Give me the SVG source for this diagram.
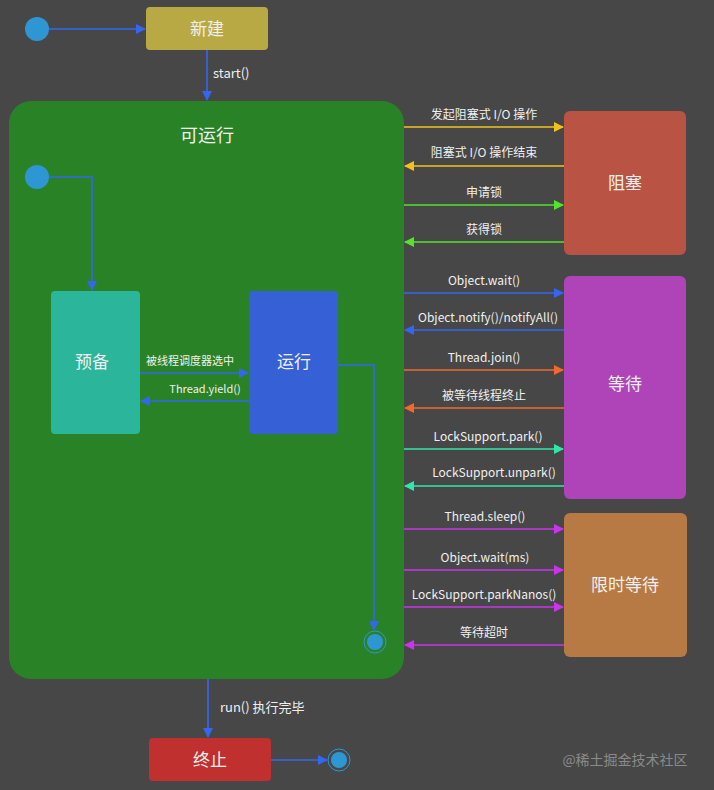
<svg xmlns="http://www.w3.org/2000/svg" width="714" height="790" viewBox="0 0 714 790">
<defs>
<style>
text{font-family:"Noto Sans CJK SC","Liberation Sans",sans-serif;fill:#f0f0f0;text-anchor:middle}
.s{font-size:12px}.b{font-size:17px}
.c{stroke-width:1.6;fill:none}
</style>
<marker id="ab" markerWidth="10" markerHeight="10" refX="9" refY="5" orient="auto" markerUnits="userSpaceOnUse"><path d="M0,0L10,5L0,10z" fill="#3466f0"/></marker>
<marker id="ay" markerWidth="10" markerHeight="10" refX="9" refY="5" orient="auto-start-reverse" markerUnits="userSpaceOnUse"><path d="M0,0L10,5L0,10z" fill="#f2c21b"/></marker>
<marker id="ag" markerWidth="10" markerHeight="10" refX="9" refY="5" orient="auto-start-reverse" markerUnits="userSpaceOnUse"><path d="M0,0L10,5L0,10z" fill="#52e52a"/></marker>
<marker id="abl" markerWidth="10" markerHeight="10" refX="9" refY="5" orient="auto-start-reverse" markerUnits="userSpaceOnUse"><path d="M0,0L10,5L0,10z" fill="#3466f0"/></marker>
<marker id="ao" markerWidth="10" markerHeight="10" refX="9" refY="5" orient="auto-start-reverse" markerUnits="userSpaceOnUse"><path d="M0,0L10,5L0,10z" fill="#f06a30"/></marker>
<marker id="at" markerWidth="10" markerHeight="10" refX="9" refY="5" orient="auto-start-reverse" markerUnits="userSpaceOnUse"><path d="M0,0L10,5L0,10z" fill="#2ee8a8"/></marker>
<marker id="am" markerWidth="10" markerHeight="10" refX="9" refY="5" orient="auto-start-reverse" markerUnits="userSpaceOnUse"><path d="M0,0L10,5L0,10z" fill="#cc33ee"/></marker>
</defs>
<rect width="714" height="790" fill="#474747"/>
<g id="runnable"><rect x="9" y="101" width="395" height="578" rx="22" fill="#2a8226"/><text x="207" y="142" style="font-size:18px">可运行</text></g>
<g id="start1"><circle cx="37" cy="29" r="12" fill="#2f96d4"/></g>
<g id="new"><rect x="146" y="7" width="122" height="43" rx="4" fill="#b9a944"/><text x="207" y="35" class="b">新建</text></g>
<g id="start2"><circle cx="37" cy="177" r="12" fill="#2f96d4"/></g>
<g id="ready"><rect x="51" y="291" width="89" height="143" rx="4" fill="#2bb59a"/><text x="92" y="368" class="b">预备</text></g>
<g id="running"><rect x="249" y="291" width="89" height="143" rx="4" fill="#3661d6"/><text x="294" y="368" class="b">运行</text></g>
<g id="end1"><circle cx="375" cy="642" r="11" fill="none" stroke="#2f96d4" stroke-width="1"/><circle cx="375" cy="642" r="8" fill="#2f96d4"/></g>
<g id="blocked"><rect x="564" y="111" width="122" height="144" rx="6" fill="#b95444"/><text x="625" y="189" class="b">阻塞</text></g>
<g id="waiting"><rect x="564" y="276" width="122" height="223" rx="6" fill="#ae44b8"/><text x="625" y="390" class="b">等待</text></g>
<g id="timed"><rect x="564" y="513" width="123" height="144" rx="6" fill="#b87a44"/><text x="625" y="591" class="b">限时等待</text></g>
<g id="terminated"><rect x="149" y="738" width="122" height="43" rx="4" fill="#c0302f"/><text x="210" y="766" class="b">终止</text></g>
<g id="end2"><circle cx="339" cy="760" r="11" fill="none" stroke="#2f96d4" stroke-width="1"/><circle cx="339" cy="760" r="8" fill="#2f96d4"/></g>
<g id="connectors">
<path class="c" stroke="#3466f0" d="M49,29H145" marker-end="url(#ab)"/>
<path class="c" stroke="#3466f0" d="M207,50V100" marker-end="url(#ab)"/>
<text x="213" y="78" style="font-size:13px;text-anchor:start">start()</text>
<path class="c" stroke="#3466f0" d="M49,177H92V290" marker-end="url(#ab)"/>
<path class="c" stroke="#3466f0" d="M140,373H248" marker-end="url(#ab)"/>
<text x="190" y="365" style="font-size:11px">被线程调度器选中</text>
<path class="c" stroke="#3466f0" d="M249,401H141" marker-end="url(#ab)"/>
<text x="205" y="393" style="font-size:11px">Thread.yield()</text>
<path class="c" stroke="#3466f0" d="M338,365H374V630" marker-end="url(#ab)"/>
<path class="c" stroke="#3466f0" d="M208,679V737" marker-end="url(#ab)"/>
<text x="220" y="712" style="font-size:13px;text-anchor:start">run() 执行完毕</text>
<path class="c" stroke="#3466f0" d="M271,760H327" marker-end="url(#ab)"/>
<path class="c" stroke="#f2c21b" d="M404,127H563" marker-end="url(#ay)"/>
<text x="484" y="119" class="s">发起阻塞式 I/O 操作</text>
<path class="c" stroke="#f2c21b" d="M405,166H564" marker-start="url(#ay)"/>
<text x="484" y="157" class="s">阻塞式 I/O 操作结束</text>
<path class="c" stroke="#52e52a" d="M404,205H563" marker-end="url(#ag)"/>
<text x="484" y="197" class="s">申请锁</text>
<path class="c" stroke="#52e52a" d="M405,242H564" marker-start="url(#ag)"/>
<text x="484" y="234" class="s">获得锁</text>
<path class="c" stroke="#3466f0" d="M404,293H563" marker-end="url(#abl)"/>
<text x="484" y="285" class="s">Object.wait()</text>
<path class="c" stroke="#3466f0" d="M405,330H564" marker-start="url(#abl)"/>
<text x="488" y="322" class="s">Object.notify()/notifyAll()</text>
<path class="c" stroke="#f06a30" d="M404,370H563" marker-end="url(#ao)"/>
<text x="484" y="362" class="s">Thread.join()</text>
<path class="c" stroke="#f06a30" d="M405,408H564" marker-start="url(#ao)"/>
<text x="484" y="400" class="s">被等待线程终止</text>
<path class="c" stroke="#2ee8a8" d="M404,449H563" marker-end="url(#at)"/>
<text x="488" y="441" class="s">LockSupport.park()</text>
<path class="c" stroke="#2ee8a8" d="M405,486H564" marker-start="url(#at)"/>
<text x="494" y="477" class="s">LockSupport.unpark()</text>
<path class="c" stroke="#cc33ee" d="M404,529H563" marker-end="url(#am)"/>
<text x="485" y="521" class="s">Thread.sleep()</text>
<path class="c" stroke="#cc33ee" d="M404,570H563" marker-end="url(#am)"/>
<text x="485" y="562" class="s">Object.wait(ms)</text>
<path class="c" stroke="#cc33ee" d="M404,607H563" marker-end="url(#am)"/>
<text x="484" y="599" class="s">LockSupport.parkNanos()</text>
<path class="c" stroke="#cc33ee" d="M405,645H564" marker-start="url(#am)"/>
<text x="484" y="637" class="s">等待超时</text>
</g>
<text x="625" y="765" style="font-size:14px;fill:#8a8a8a">@稀土掘金技术社区</text>
</svg>
